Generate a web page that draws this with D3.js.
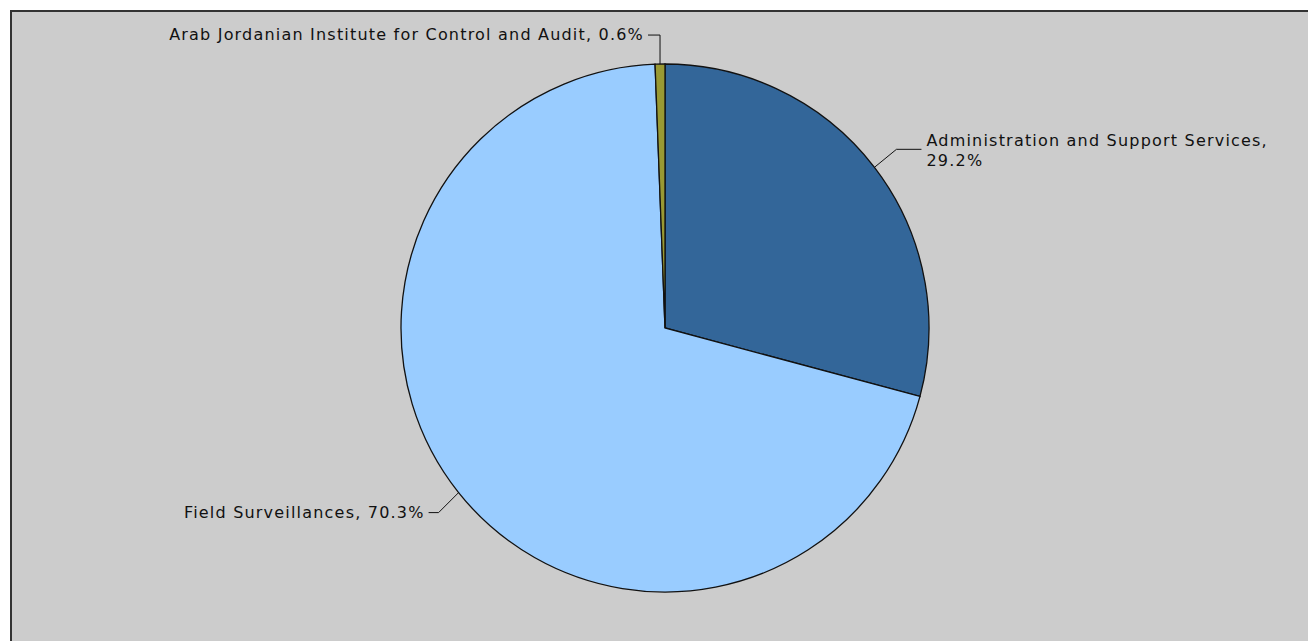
<!DOCTYPE html>
<html>
<head>
<meta charset="utf-8">
<script src="https://cdn.jsdelivr.net/npm/d3@7"></script>
<style>
  body { margin: 0; background: #fff; }
  .lbl { font-family: "DejaVu Sans", sans-serif; font-size: 16px; letter-spacing: 1.2px; fill: #111; }
</style>
</head>
<body>
<div id="chart"></div>
<script>
const categories = ["Administration and Support Services", "Field Surveillances", "Arab Jordanian Institute for Control and Audit"];
const shares = [29.2, 70.3, 0.6];
const colors = ["#336699", "#99ccff", "#999933"];

const width = 1308;
const height = 641;
const cx = 665;
const cy = 328;
const radius = 264;

const svg = d3.select("#chart").append("svg")
  .attr("width", width)
  .attr("height", height);

// panel, runs off the right and bottom edges
svg.append("rect")
  .attr("x", 11)
  .attr("y", 11)
  .attr("width", width + 20)
  .attr("height", height + 20)
  .attr("fill", "#cccccc")
  .attr("stroke", "#333")
  .attr("stroke-width", 2);

const data = categories.map((c, i) => ({ name: c, value: shares[i], color: colors[i] }));

const pie = d3.pie().sort(null).value(d => d.value);
const arc = d3.arc().innerRadius(0).outerRadius(radius);
const arcs = pie(data);

const g = svg.append("g").attr("transform", `translate(${cx},${cy})`);

g.selectAll("path.slice")
  .data(arcs)
  .enter()
  .append("path")
  .attr("class", "slice")
  .attr("d", arc)
  .attr("fill", d => d.data.color)
  .attr("stroke", "#111")
  .attr("stroke-width", 1.3);

// point on the rim at the middle of each slice
const edge = d => {
  const a = (d.startAngle + d.endAngle) / 2;
  return [cx + radius * Math.sin(a), cy - radius * Math.cos(a)];
};

const lines = svg.append("g");
const texts = svg.append("g");

arcs.forEach((d, i) => {
  const [ex, ey] = edge(d);
  const pct = d.data.value.toFixed(1) + "%";
  if (i === 0) {
    const pts = [[ex, ey], [ex + 22, ey - 18], [ex + 47, ey - 18]];
    lines.append("path").attr("d", d3.line()(pts)).attr("fill", "none").attr("stroke", "#111");
    const t = texts.append("text").attr("class", "lbl").attr("x", ex + 52).attr("y", ey - 21);
    t.append("tspan").attr("x", ex + 52).text(d.data.name + ",");
    t.append("tspan").attr("x", ex + 52).attr("dy", 20).text(pct);
  } else if (i === 1) {
    const pts = [[ex, ey], [ex - 20, ey + 20], [ex - 30, ey + 20]];
    lines.append("path").attr("d", d3.line()(pts)).attr("fill", "none").attr("stroke", "#111");
    texts.append("text").attr("class", "lbl")
      .attr("x", ex - 34).attr("y", ey + 25)
      .attr("text-anchor", "end")
      .text(`${d.data.name}, ${pct}`);
  } else {
    const pts = [[ex, ey], [ex, ey - 29], [ex - 12, ey - 29]];
    lines.append("path").attr("d", d3.line()(pts)).attr("fill", "none").attr("stroke", "#111");
    texts.append("text").attr("class", "lbl")
      .attr("x", ex - 16).attr("y", ey - 24)
      .attr("text-anchor", "end")
      .text(`${d.data.name}, ${pct}`);
  }
});
</script>
</body>
</html>
